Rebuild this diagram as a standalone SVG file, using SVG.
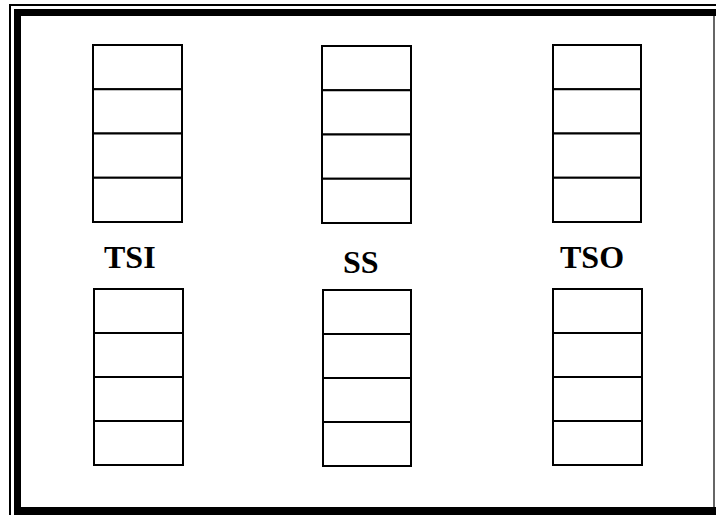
<svg xmlns="http://www.w3.org/2000/svg" width="716" height="515" viewBox="0 0 716 515">
<style>
.cell{fill:#fff;stroke:#000;stroke-width:2}
.lbl{font-family:"Liberation Serif","Times New Roman",serif;font-weight:bold;font-size:32px;fill:#000}
</style>
<rect width="716" height="515" fill="#fff"/>
<g id="frame">
<path d="M10,515 V5 H716" fill="none" stroke="#000" stroke-width="2"/>
<path d="M17.5,515 V12.5 H716" fill="none" stroke="#000" stroke-width="7"/>
<rect x="14" y="507" width="702" height="8" fill="#000"/>
<line x1="714" y1="16" x2="714" y2="507" stroke="#333" stroke-width="1.5"/>
</g>
<g id="connectors"></g>
<g id="tsi-top">
<rect class="cell" x="93" y="45" width="89" height="44.25"/>
<rect class="cell" x="93" y="89.25" width="89" height="44.25"/>
<rect class="cell" x="93" y="133.5" width="89" height="44.25"/>
<rect class="cell" x="93" y="177.75" width="89" height="44.25"/>
</g>
<g id="ss-top">
<rect class="cell" x="322" y="46" width="89" height="44.25"/>
<rect class="cell" x="322" y="90.25" width="89" height="44.25"/>
<rect class="cell" x="322" y="134.5" width="89" height="44.25"/>
<rect class="cell" x="322" y="178.75" width="89" height="44.25"/>
</g>
<g id="tso-top">
<rect class="cell" x="553" y="45" width="88" height="44.25"/>
<rect class="cell" x="553" y="89.25" width="88" height="44.25"/>
<rect class="cell" x="553" y="133.5" width="88" height="44.25"/>
<rect class="cell" x="553" y="177.75" width="88" height="44.25"/>
</g>
<g id="tsi-bottom">
<rect class="cell" x="94" y="289" width="89" height="44"/>
<rect class="cell" x="94" y="333" width="89" height="44"/>
<rect class="cell" x="94" y="377" width="89" height="44"/>
<rect class="cell" x="94" y="421" width="89" height="44"/>
</g>
<g id="ss-bottom">
<rect class="cell" x="323" y="290" width="88" height="44"/>
<rect class="cell" x="323" y="334" width="88" height="44"/>
<rect class="cell" x="323" y="378" width="88" height="44"/>
<rect class="cell" x="323" y="422" width="88" height="44"/>
</g>
<g id="tso-bottom">
<rect class="cell" x="553" y="289" width="89" height="44"/>
<rect class="cell" x="553" y="333" width="89" height="44"/>
<rect class="cell" x="553" y="377" width="89" height="44"/>
<rect class="cell" x="553" y="421" width="89" height="44"/>
</g>
<g id="labels">
<text class="lbl" x="104" y="268">TSI</text>
<text class="lbl" x="343" y="273">SS</text>
<text class="lbl" x="560" y="268">TSO</text>
</g>
</svg>
